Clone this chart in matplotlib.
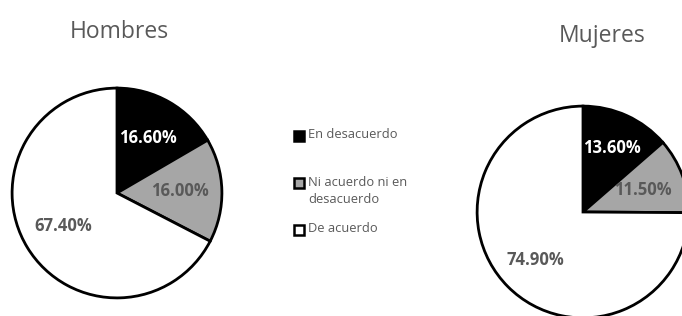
from matplotlib import pyplot as plt
from matplotlib.patches import Rectangle
import numpy as np

categories = ['En desacuerdo', 'Ni acuerdo ni en\ndesacuerdo', 'De acuerdo']
hombres = [16.6, 16.0, 67.4]
mujeres = [13.6, 11.5, 74.9]
colors = ['#000000', '#a6a6a6', '#ffffff']
pct_colors = ['white', '#595959', '#595959']

plt.rcParams['font.family'] = ['Open Sans', 'DejaVu Sans']

W, H = 682, 316
fig = plt.figure(figsize=(W / 100, H / 100), dpi=100)
fig.patch.set_facecolor('white')


def pie_axes(cx, cy, r):
    # pixel centre (from top-left) and radius -> axes box
    return fig.add_axes([(cx - r) / W, (H - cy - r) / H, 2 * r / W, 2 * r / H])


def draw_pie(ax, values, title, title_xy, pctdist):
    wedges, texts, autotexts = ax.pie(
        values, colors=colors, startangle=90, counterclock=False,
        autopct='%.2f%%', pctdistance=0.6,
        wedgeprops=dict(edgecolor='black', linewidth=2.0),
        textprops=dict(fontsize=12, fontweight='bold'))
    # move each percentage along its wedge's bisector
    for w, t, c, d in zip(wedges, autotexts, pct_colors, pctdist):
        a = np.deg2rad((w.theta1 + w.theta2) / 2)
        t.set_position((d * np.cos(a), d * np.sin(a)))
        t.set_color(c)
    ax.set_xlim(-1.02, 1.02)
    ax.set_ylim(-1.02, 1.02)
    fig.text(title_xy[0] / W, 1 - title_xy[1] / H, title, fontsize=16.5,
             color='#595959', ha='center', va='center')


ax1 = pie_axes(117, 193, 107)
draw_pie(ax1, hombres, 'Hombres', (119, 32), [0.6, 0.6, 0.6])

ax2 = pie_axes(583, 212, 108)
draw_pie(ax2, mujeres, 'Mujeres', (602, 36), [0.66, 0.6, 0.64])

# legend drawn by hand: handle sits beside the first line of each label
rows = [136, 183, 230]
for label, c, y in zip(categories, colors, rows):
    fig.patches.append(Rectangle((294 / W, 1 - (y + 5) / H), 10 / W, 10 / H,
                                 transform=fig.transFigure, facecolor=c,
                                 edgecolor='black', linewidth=1.8))
    fig.text(308 / W, 1 - (y - 7.5) / H, label, fontsize=9.3, color='#595959',
             ha='left', va='top', linespacing=1.45)

fig.savefig('out.png', dpi=100)
